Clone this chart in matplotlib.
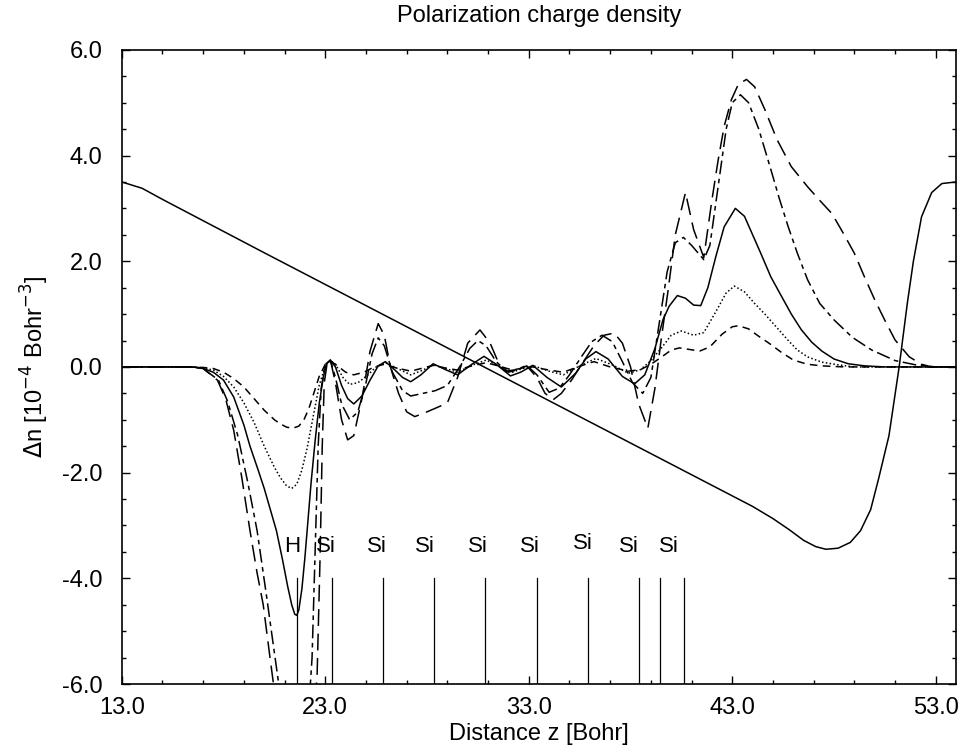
import matplotlib
matplotlib.use("Agg")
import matplotlib.pyplot as plt
from matplotlib.ticker import FixedLocator, MultipleLocator

plt.rcParams['font.family'] = ['Liberation Sans', 'DejaVu Sans']

# sawtooth (external potential)
z_saw = [13, 14, 15, 20, 25, 30, 35, 40, 44, 45, 45.8, 46.5, 47.1, 47.6, 48.2, 48.8, 49.3,
         49.8, 50.2, 50.7, 51.2, 51.6, 51.9, 52.3, 52.8, 53.3, 54]
n_saw = [3.50, 3.38, 3.17, 2.16, 1.16, 0.16, -0.84, -1.84, -2.64, -2.87, -3.08, -3.28, -3.4, -3.45,
         -3.43, -3.32, -3.1, -2.7, -2.1, -1.3, 0.0, 1.2, 2.0, 2.84, 3.3, 3.47, 3.5]

# short dashed
z_sd = [13, 16, 17, 17.5, 18, 18.5, 19, 19.5, 20, 20.5, 20.8, 21.1, 21.4, 21.7, 21.95, 22.2, 22.45,
        22.7, 23, 23.3, 23.6, 24, 24.4, 24.9, 25.4, 25.9, 26.5, 27.2, 27.8, 28.3, 28.9, 29.5, 30.2,
        30.9, 31.5, 32.2, 32.7, 33.2, 34.0, 34.7, 35.4, 36.2, 37.0, 37.9, 38.5, 39.0, 39.5, 40.0,
        40.4, 40.9, 41.4, 41.9, 42.5, 43.0, 43.3, 43.8, 44.3, 44.8, 45.4, 46.0, 46.7, 47.4, 48.5, 54]
n_sd = [0, 0, -0.01, -0.03, -0.1, -0.22, -0.38, -0.6, -0.82, -1.0, -1.08, -1.14, -1.16, -1.12, -1.0,
        -0.78, -0.48, -0.18, 0.05, 0.1, 0.02, -0.1, -0.15, -0.1, 0.0, 0.05, -0.02, -0.08, -0.02,
        0.03, -0.02, -0.06, 0.02, 0.08, 0.02, -0.06, -0.02, 0.0, -0.06, -0.1, 0.0, 0.1, 0.0, -0.08,
        -0.05, 0.05, 0.18, 0.32, 0.36, 0.33, 0.30, 0.38, 0.62, 0.76, 0.78, 0.72, 0.58, 0.45, 0.28,
        0.13, 0.05, 0.02, 0, 0]

# dotted
z_dt = [13, 16.5, 17, 17.5, 18, 18.5, 19, 19.5, 20, 20.5, 20.8, 21.1, 21.35, 21.6, 21.85, 22.1,
        22.4, 22.7, 23.0, 23.25, 23.5, 23.9, 24.2, 24.6, 25.1, 25.5, 25.95, 26.5, 27.2, 27.8, 28.3,
        28.9, 29.5, 30.2, 30.9, 31.5, 32.2, 32.7, 33.25, 34.0, 34.7, 35.5, 36.3, 37.1, 37.9, 38.5,
        39.0, 39.5, 40.0, 40.5, 41.1, 41.6, 42.2, 42.7, 43.1, 43.6, 44.1, 44.6, 45.2, 45.75, 46.2,
        46.7, 47.4, 48.2, 49, 54]
n_dt = [0, 0, -0.02, -0.06, -0.18, -0.38, -0.68, -1.05, -1.5, -1.9, -2.1, -2.25, -2.3, -2.22, -1.95,
        -1.55, -0.95, -0.35, 0.02, 0.12, 0.05, -0.22, -0.33, -0.3, -0.15, 0.0, 0.08, -0.02, -0.15,
        -0.06, 0.04, -0.03, -0.1, 0.03, 0.13, 0.03, -0.1, -0.03, 0.02, -0.08, -0.15, 0.02, 0.16,
        0.04, -0.12, -0.05, 0.12, 0.35, 0.6, 0.68, 0.6, 0.65, 1.05, 1.4, 1.53, 1.42, 1.2, 1.0, 0.74,
        0.5, 0.32, 0.19, 0.09, 0.04, 0, 0]

# solid
z_so = [13, 16.5, 17, 17.5, 18, 18.5, 19.0, 19.3, 19.7, 20.0, 20.3, 20.6, 20.9, 21.15, 21.35, 21.5,
        21.6, 21.7, 21.85, 22.0, 22.15, 22.3, 22.5, 22.7, 22.9, 23.05, 23.25, 23.5, 23.8, 24.1,
        24.4, 24.8, 25.2, 25.6, 25.95, 26.4, 26.8, 27.2, 27.7, 28.3, 28.9, 29.5, 30.2, 30.8, 31.4,
        32.1, 32.6, 33.2, 33.9, 34.6, 35.3, 35.8, 36.3, 36.9, 37.6, 38.2, 38.7, 39.2, 39.6, 39.9,
        40.3, 40.7, 41.1, 41.45, 41.8, 42.2, 42.6, 43.15, 43.6, 44.0, 44.4, 44.9, 45.4, 45.9, 46.4,
        46.9, 47.4, 48.0, 48.7, 49.5, 50.5, 54]
n_so = [0, 0, -0.03, -0.1, -0.25, -0.57, -1.1, -1.5, -1.95, -2.3, -2.7, -3.1, -3.65, -4.15, -4.5,
        -4.68, -4.7, -4.6, -4.2, -3.6, -2.9, -2.2, -1.4, -0.7, -0.2, 0.05, 0.13, 0.0, -0.35, -0.6,
        -0.7, -0.55, -0.25, 0.02, 0.1, -0.05, -0.2, -0.28, -0.15, 0.06, -0.05, -0.15, 0.05, 0.2,
        0.05, -0.17, -0.1, 0.03, -0.2, -0.38, -0.12, 0.15, 0.29, 0.15, -0.18, -0.32, -0.15, 0.35,
        0.9, 1.15, 1.35, 1.3, 1.17, 1.16, 1.5, 2.1, 2.65, 3.0, 2.85, 2.5, 2.15, 1.7, 1.35, 1.0, 0.7,
        0.47, 0.3, 0.15, 0.06, 0.02, 0, 0]

# dash-dot
z_dd = [13, 16.5, 17, 17.75, 18.2, 18.7, 19.2, 19.65, 20.1, 20.55, 21.0, 21.7, 22.1, 22.35, 22.5,
        22.65, 22.8, 23.0, 23.25, 23.5, 23.8, 24.2, 24.6, 25.0, 25.3, 25.6, 25.9, 26.3, 26.8, 27.2,
        27.8, 28.4, 29.0, 29.6, 30.1, 30.5, 30.9, 31.4, 31.9, 32.4, 32.9, 33.4, 34.0, 34.5, 35.0,
        35.6, 36.1, 36.6, 37.1, 37.6, 38.1, 38.6, 39.0, 39.4, 39.8, 40.2, 40.6, 41.0, 41.6, 41.9,
        42.3, 42.7, 43.0, 43.4, 43.8, 44.3, 44.9, 45.3, 45.75, 46.2, 46.7, 47.3, 48.0, 48.9, 49.85,
        51.0, 52.0, 53, 54]
n_dd = [0, 0, -0.03, -0.25, -0.65, -1.3, -2.2, -3.1, -4.3, -5.55, -6.8, -8.0, -7.0, -5.5, -3.5,
        -1.5, -0.4, 0.05, 0.13, -0.2, -0.7, -1.0, -0.85, -0.3, 0.25, 0.55, 0.4, -0.1, -0.45, -0.55,
        -0.5, -0.45, -0.35, 0.0, 0.35, 0.5, 0.4, 0.1, -0.08, -0.05, 0.03, -0.15, -0.48, -0.4, -0.15,
        0.2, 0.48, 0.6, 0.48, 0.1, -0.3, -0.5, -0.2, 0.8, 1.8, 2.35, 2.45, 2.3, 2.03, 2.3, 3.4, 4.5,
        5.0, 5.15, 5.0, 4.5, 3.73, 3.2, 2.65, 2.15, 1.65, 1.2, 0.89, 0.56, 0.32, 0.12, 0.04, 0, 0]

# long dashed
z_ld = [13, 16.5, 17, 17.7, 18.1, 18.5, 18.9, 19.3, 19.65, 19.95, 20.3, 20.8, 21.4, 22.0, 22.3,
        22.6, 22.75, 22.85, 22.95, 23.1, 23.25, 23.5, 23.8, 24.1, 24.4, 24.8, 25.2, 25.6, 25.9,
        26.2, 26.6, 27.0, 27.4, 28.0, 28.6, 29.0, 29.5, 30.0, 30.6, 31.1, 31.6, 32.0, 32.5, 32.9,
        33.4, 33.8, 34.2, 34.6, 35.1, 35.6, 36.2, 36.7, 37.2, 37.6, 38.0, 38.4, 38.85, 39.2, 39.5,
        39.85, 40.2, 40.7, 41.1, 41.6, 42.0, 42.3, 42.6, 42.95, 43.3, 43.7, 44.1, 44.6, 45.2, 45.9,
        46.7, 47.3, 47.9, 48.5, 49.0, 49.5, 50.0, 50.5, 51.0, 51.7, 52.3, 52.8, 54]
n_ld = [0, 0, -0.03, -0.25, -0.6, -1.2, -2.1, -3.1, -3.9, -4.5, -5.55, -7.0, -8.5, -8.0, -7.5, -5.8,
        -3.5, -1.5, -0.3, 0.1, 0.13, -0.3, -1.0, -1.38, -1.3, -0.6, 0.3, 0.82, 0.6, 0.0, -0.5, -0.85,
        -0.94, -0.85, -0.75, -0.68, -0.2, 0.45, 0.7, 0.45, 0.0, -0.1, -0.05, 0.02, -0.2, -0.5, -0.62,
        -0.5, -0.25, 0.05, 0.4, 0.6, 0.64, 0.45, 0.0, -0.7, -1.16, -0.4, 0.5, 1.46, 2.5, 3.3, 2.6,
        2.07, 3.16, 3.9, 4.55, 5.05, 5.35, 5.44, 5.3, 4.87, 4.3, 3.79, 3.41, 3.15, 2.9, 2.5, 2.15,
        1.7, 1.27, 0.88, 0.51, 0.19, 0.05, 0, 0]

# atom positions and labels
atom_z = [21.6, 23.33, 25.84, 28.33, 30.85, 33.39, 35.89, 38.43, 39.45, 40.62]
label_z = [21.35, 23.05, 25.56, 27.88, 30.49, 33.05, 35.66, 37.93, 39.9]
label_txt = ['H', 'Si', 'Si', 'Si', 'Si', 'Si', 'Si', 'Si', 'Si']
label_n = [-3.4, -3.4, -3.4, -3.4, -3.4, -3.4, -3.35, -3.4, -3.4]

x_major = [13, 23, 33, 43, 53]
x_minor = list(range(13, 55, 2))

fig = plt.figure(figsize=(9.59, 7.47), dpi=100)
ax = fig.add_axes([0.127, 0.0843, 0.87, 0.849])

ax.plot(z_saw, n_saw, color='black', lw=1.1)
ax.plot(z_sd, n_sd, color='black', lw=1.1, dashes=(5, 3.5))
ax.plot(z_dt, n_dt, color='black', lw=1.1, dashes=(1, 1.5))
ax.plot(z_so, n_so, color='black', lw=1.1)
ax.plot(z_dd, n_dd, color='black', lw=1.1, dashes=(9, 3, 3, 3))
ax.plot(z_ld, n_ld, color='black', lw=1.1, dashes=(11, 5))

for z in atom_z:
    ax.plot([z, z], [-4.0, -6.0], color='black', lw=0.9)
for z, t, n in zip(label_z, label_txt, label_n):
    ax.text(z, n, t, fontsize=16, ha='center', va='center')

ax.set_xlim(13, 54)
ax.set_ylim(-6, 6)
ax.xaxis.set_major_locator(FixedLocator(x_major))
ax.xaxis.set_minor_locator(FixedLocator(x_minor))
ax.yaxis.set_major_locator(MultipleLocator(2))
ax.yaxis.set_minor_locator(MultipleLocator(0.5))
ax.xaxis.set_major_formatter(plt.FormatStrFormatter('%.1f'))
ax.yaxis.set_major_formatter(plt.FormatStrFormatter('%.1f'))
ax.tick_params(which='both', direction='in', top=True, right=True, labelsize=17, width=1.0)
ax.tick_params(which='major', length=6)
ax.tick_params(which='minor', length=3)
ax.tick_params(axis='x', pad=9)
ax.tick_params(axis='y', pad=14)
for s in ax.spines.values():
    s.set_linewidth(1.2)

ax.set_title('Polarization charge density', fontsize=17, pad=20)
ax.set_xlabel('Distance z [Bohr]', fontsize=17, labelpad=3)
ax.set_ylabel(r'$\Delta$n [10$^{-4}$ Bohr$^{-3}$]', fontsize=17, labelpad=8)

fig.savefig('out.png', dpi=100)
